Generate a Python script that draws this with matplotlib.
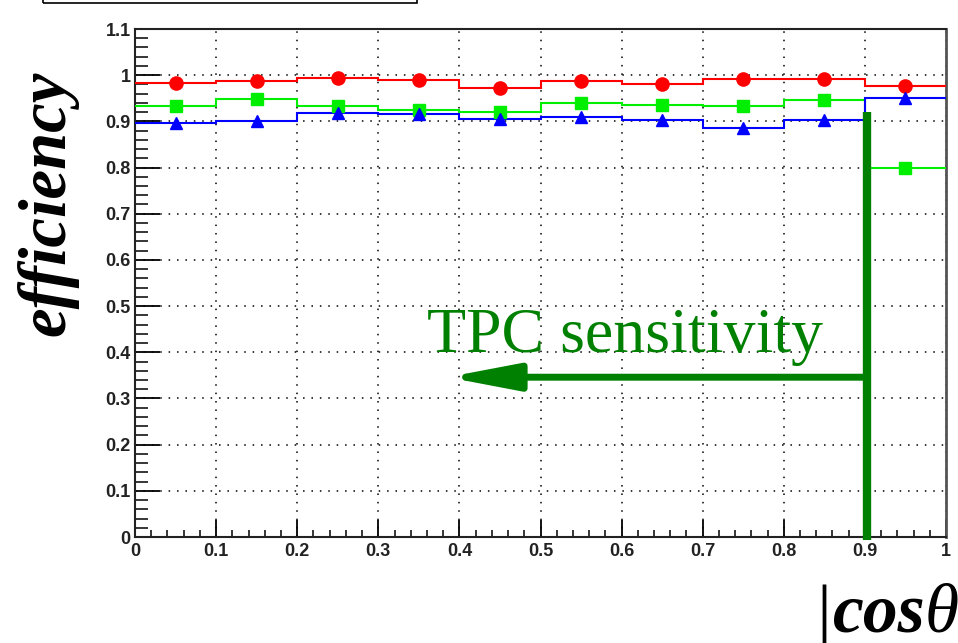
import matplotlib
matplotlib.use("Agg")
import matplotlib.pyplot as plt
from matplotlib.patches import FancyArrowPatch, Rectangle
import numpy as np

# ---- data ----
bin_edges = [0.0, 0.1, 0.2, 0.3, 0.4, 0.5, 0.6, 0.7, 0.8, 0.9, 1.0]
bin_centers = [0.05, 0.15, 0.25, 0.35, 0.45, 0.55, 0.65, 0.75, 0.85, 0.95]
eff_red = [0.984, 0.988, 0.993, 0.989, 0.973, 0.988, 0.981, 0.992, 0.992, 0.977]
eff_green = [0.933, 0.948, 0.934, 0.925, 0.921, 0.939, 0.936, 0.933, 0.947, 0.799]
eff_blue = [0.896, 0.900, 0.918, 0.915, 0.905, 0.910, 0.903, 0.885, 0.903, 0.951]
x_ticks = [0.0, 0.1, 0.2, 0.3, 0.4, 0.5, 0.6, 0.7, 0.8, 0.9, 1.0]
x_tick_labels = ["0", "0.1", "0.2", "0.3", "0.4", "0.5", "0.6", "0.7", "0.8", "0.9", "1"]
y_ticks = [0.0, 0.1, 0.2, 0.3, 0.4, 0.5, 0.6, 0.7, 0.8, 0.9, 1.0, 1.1]
y_tick_labels = ["0", "0.1", "0.2", "0.3", "0.4", "0.5", "0.6", "0.7", "0.8", "0.9", "1", "1.1"]
cut_value = 0.903
arrow_y = 0.346
arrow_tip_x = 0.385
cut_top = 0.92
annotation = "TPC sensitivity"

W, H = 958, 643
fig = plt.figure(figsize=(W / 100, H / 100), dpi=100)
ax = fig.add_axes([135 / W, 1 - 537 / H, 811 / W, 508 / H])

ax.set_xlim(0, 1)
ax.set_ylim(0, 1.1)

series = [
    (eff_red, "#ff0000", "o", 9.5),
    (eff_green, "#00ee00", "s", 9),
    (eff_blue, "#0000ff", "^", 9),
]
for vals, col, mk, ms in series:
    ax.stairs(vals, bin_edges, color=col, linewidth=1.5, baseline=None, zorder=3)
    ax.plot(bin_centers, vals, linestyle="none", marker=mk, markersize=ms,
            color=col, markeredgecolor=col, zorder=4)

# grid
ax.grid(True, which="major", color="black", linestyle=(0, (1, 4.5)), linewidth=1.1, zorder=1)

# ticks
ax.set_xticks(x_ticks)
ax.set_xticklabels(x_tick_labels)
ax.set_yticks(y_ticks)
ax.set_yticklabels(y_tick_labels)
ax.set_xticks(np.arange(0, 1.0001, 0.02), minor=True)
ax.set_yticks(np.arange(0, 1.1001, 0.02), minor=True)
ax.tick_params(axis="x", which="major", direction="in", length=12, width=1.3, pad=4,
               labelsize=13)
ax.tick_params(axis="x", which="minor", direction="in", length=5, width=1.1)
ax.tick_params(axis="y", which="major", direction="in", length=18, width=1.3, pad=3,
               labelsize=13)
ax.tick_params(axis="y", which="minor", direction="in", length=9, width=1.1)
for lab in ax.get_xticklabels() + ax.get_yticklabels():
    lab.set_family("Liberation Sans")
    lab.set_fontweight("bold")
    lab.set_color("#222222")

for s in ["left", "bottom", "top"]:
    ax.spines[s].set_linewidth(1.5)
    ax.spines[s].set_color("#222222")
ax.spines["right"].set_linewidth(2)
ax.spines["right"].set_color("#555555")

# TPC cut line and arrow
ax.plot([cut_value, cut_value], [cut_top, -0.006], color="#008000", linewidth=6,
        solid_capstyle="butt", clip_on=False, zorder=6)
arr = FancyArrowPatch((cut_value, arrow_y), (arrow_tip_x, arrow_y),
                      arrowstyle="-|>,head_length=4.2,head_width=0.8",
                      mutation_scale=10, color="#008000", linewidth=5,
                      shrinkA=0, shrinkB=0, zorder=6)
ax.add_patch(arr)
ax.text(0.360, 0.400, annotation, fontsize=46, family="Liberation Serif",
        color="#008000", va="baseline", ha="left", zorder=7)

# axis titles
fig.text(47 / W, 1 - 203 / H, "efficiency", rotation=90, fontsize=48,
         family="Liberation Serif", fontweight="bold", style="italic",
         ha="center", va="center")
fig.text(816 / W, 1 - 636 / H, "|", fontsize=54, family="Liberation Serif",
         ha="left", va="baseline")
fig.text(833 / W, 1 - 632 / H, "cos", fontsize=50, family="Liberation Serif",
         fontweight="bold", style="italic", ha="left", va="baseline")
fig.text(925 / W, 1 - 632 / H, "θ", fontsize=50, family="Liberation Serif",
         style="italic", ha="left", va="baseline")

# partially visible legend box at top
fig.patches.append(Rectangle((43 / W, 1 - 3 / H), (417 - 43) / W, 0.05,
                             transform=fig.transFigure, fill=False,
                             edgecolor="black", linewidth=1.2))

fig.savefig("out.png", dpi=100)
